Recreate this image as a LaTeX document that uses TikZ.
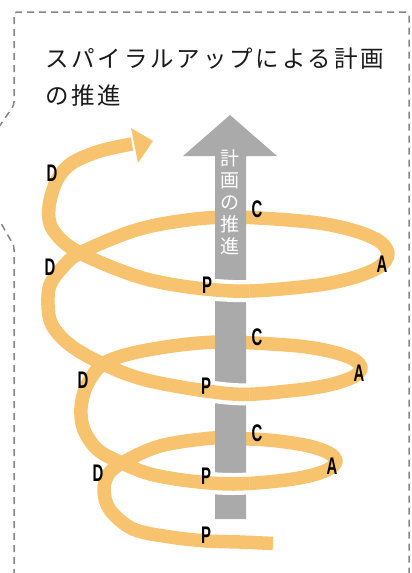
\documentclass[tikz,border=0pt]{standalone}
\usepackage{fontspec}
\newfontfamily\jp{Noto Sans CJK JP}
\newfontfamily\jpsp[LetterSpace=12]{Noto Sans CJK JP}
\newfontfamily\labfont{Liberation Sans}
\definecolor{orangec}{HTML}{F8C36F}
\definecolor{grayc}{HTML}{A9AAA9}
\definecolor{borderc}{HTML}{858585}
\definecolor{titlec}{HTML}{1A1A1A}
\newcommand\ltr[1]{\scalebox{0.62}[1]{#1}}
\begin{document}
\begin{tikzpicture}[x=1pt,y=-1pt,
  band/.style={line width=13.5pt, draw=orangec, line join=round},
  gap/.style={line width=22pt, draw=white},
  lab/.style={font=\labfont\bfseries\fontsize{24}{24}\selectfont, inner sep=0pt, text=black},
  bordline/.style={draw=borderc, line width=1.5pt, dash pattern=on 7pt off 5pt, rounded corners=3pt}]
\useasboundingbox (0,0) rectangle (412,573);
\clip (0,0) rectangle (412,573);
% border (speech-bubble frame)
\draw[bordline] (14,600) -- (14,246) -- (-30,169) -- (14,105) -- (14,12) -- (409,12) -- (409,600);
% title
\node[font=\jpsp\fontsize{23.5}{37}\selectfont, text=titlec, align=left, anchor=base west, inner sep=0pt] (title) at (45,104) {スパイラルアップによる計画\\の推進};
% spiral (whole)
\draw[band] plot[smooth, tension=0.55] coordinates {
 (273,543.5) (240,542) (207,541) (170,537) (133,529) (110,510) (104,491) (108,475) (122,463)
 (160,446) (213,438) (250,439) (278,441) (309,446) (329,453) (336,461) (329,469) (309,476) (278,481) (233,484) (190,481) (150,474) (122,463)
 (98,450) (84,430) (81,408) (87,385) (103,364) (133,353)
 (180,345) (225,342) (293,345.5) (329,351) (353,359) (361,368) (353,377) (329,385) (293,390.5) (233,394) (150,381) (103,364)
 (70,345) (52,325) (48,305) (50,285) (62,268) (80,253) (133,231)
 (180,221) (233,217) (310.5,222) (352,230) (379,241) (388,254) (379,267) (352,278) (310.5,286) (233,291) (150,280) (80,253)
 (53,230) (49,207) (57,180) (72,163) (100,151) (132,144)};
\fill[orangec] (131,128) -- (153,141) -- (138,163) -- cycle;
% grey arrow
\fill[grayc] (215,519) -- (215,156) -- (183,156) -- (230,115) -- (277,156) -- (246,156) -- (246,519) -- cycle;
\node[font=\jp\fontsize{19}{22}\selectfont, text=white, align=center, inner sep=0pt] (vt) at (230,202) {計\\画\\の\\推\\進};
% front parts of the spiral over the arrow
\begin{scope}
\clip (212,266) rectangle (249,313) (212,370) rectangle (249,415) (212,460) rectangle (249,505);
\draw[gap] plot[smooth, tension=0.55] coordinates {
 (273,543.5) (240,542) (207,541) (170,537) (133,529) (110,510) (104,491) (108,475) (122,463)
 (160,446) (213,438) (250,439) (278,441) (309,446) (329,453) (336,461) (329,469) (309,476) (278,481) (233,484) (190,481) (150,474) (122,463)
 (98,450) (84,430) (81,408) (87,385) (103,364) (133,353)
 (180,345) (225,342) (293,345.5) (329,351) (353,359) (361,368) (353,377) (329,385) (293,390.5) (233,394) (150,381) (103,364)
 (70,345) (52,325) (48,305) (50,285) (62,268) (80,253) (133,231)
 (180,221) (233,217) (310.5,222) (352,230) (379,241) (388,254) (379,267) (352,278) (310.5,286) (233,291) (150,280) (80,253)
 (53,230) (49,207) (57,180) (72,163) (100,151) (132,144)};
\draw[band] plot[smooth, tension=0.55] coordinates {
 (273,543.5) (240,542) (207,541) (170,537) (133,529) (110,510) (104,491) (108,475) (122,463)
 (160,446) (213,438) (250,439) (278,441) (309,446) (329,453) (336,461) (329,469) (309,476) (278,481) (233,484) (190,481) (150,474) (122,463)
 (98,450) (84,430) (81,408) (87,385) (103,364) (133,353)
 (180,345) (225,342) (293,345.5) (329,351) (353,359) (361,368) (353,377) (329,385) (293,390.5) (233,394) (150,381) (103,364)
 (70,345) (52,325) (48,305) (50,285) (62,268) (80,253) (133,231)
 (180,221) (233,217) (310.5,222) (352,230) (379,241) (388,254) (379,267) (352,278) (310.5,286) (233,291) (150,280) (80,253)
 (53,230) (49,207) (57,180) (72,163) (100,151) (132,144)};
\end{scope}
% labels
\node[lab] (d1) at (52,173) {\ltr{D}};
\node[lab] (d2) at (50,267) {\ltr{D}};
\node[lab] (d3) at (83,380) {\ltr{D}};
\node[lab] (d4) at (98,473) {\ltr{D}};
\node[lab] (c1) at (257,209) {\ltr{C}};
\node[lab] (c2) at (257,337) {\ltr{C}};
\node[lab] (c3) at (257,433) {\ltr{C}};
\node[lab] (a1) at (382,264) {\ltr{A}};
\node[lab] (a2) at (359,373) {\ltr{A}};
\node[lab] (a3) at (332,466) {\ltr{A}};
\node[lab] (p1) at (207,285) {\ltr{P}};
\node[lab] (p2) at (206,386) {\ltr{P}};
\node[lab] (p3) at (206,476) {\ltr{P}};
\node[lab] (p4) at (206,535) {\ltr{P}};
\end{tikzpicture}
\end{document}
